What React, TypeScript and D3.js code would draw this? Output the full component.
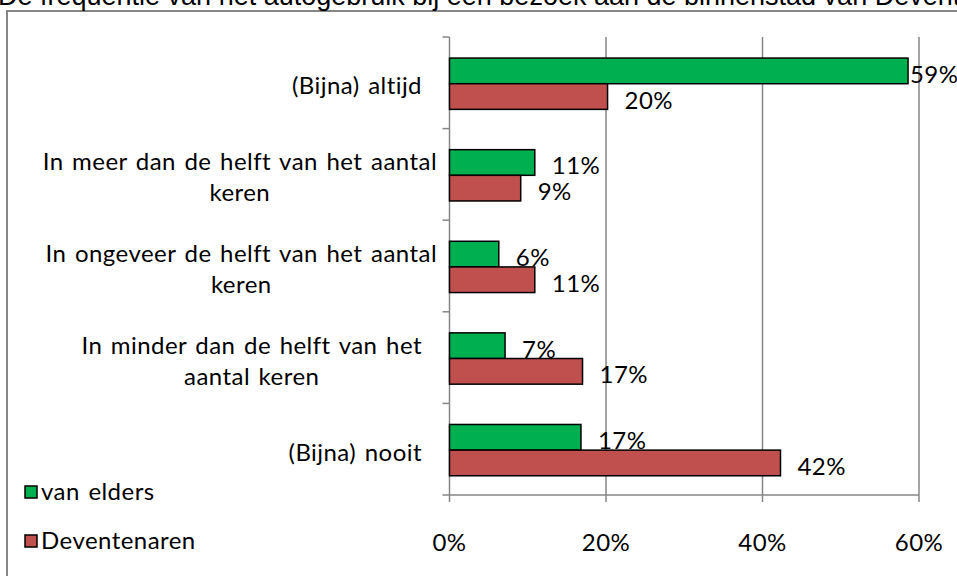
import React, { useEffect, useRef } from "react";
import * as d3 from "d3";

const titleText = "De frequentie van het autogebruik bij een bezoek aan de binnenstad van Deventer";
const categories = ["altijd", "meer", "ongeveer", "minder", "nooit"];
const categoryLines = [
  ["(Bijna) altijd"],
  ["In meer dan de helft van het aantal", "keren"],
  ["In ongeveer de helft van het aantal", "keren"],
  ["In minder dan de helft van het", "aantal keren"],
  ["(Bijna) nooit"],
];
const seriesNames = ["van elders", "Deventenaren"];
const seriesColors = ["#00B050", "#C0504D"];
const vanElders = [58.6, 10.9, 6.3, 7.1, 16.8];
const deventenaren = [20.2, 9.1, 10.9, 17.0, 42.3];
const xTicks = [0, 20, 40, 60];

export default function App() {
  const ref = useRef<SVGSVGElement>(null);
  useEffect(() => {
    const svg = d3.select(ref.current);
    svg.selectAll("*").remove();
    const W = 957, H = 576;
    const font = "Lato, 'Open Sans', sans-serif";
    const fs = 24;
    const ls = 0.45;
    const ws = 2;
    const grid = "#868686";

    const txt = (sel: any) =>
      sel.attr("font-family", font).attr("font-size", fs).attr("fill", "#000")
        .attr("letter-spacing", ls).attr("word-spacing", ws);

    svg.append("rect").attr("x", 0).attr("y", 0).attr("width", W).attr("height", H).attr("fill", "#fff");
    svg.append("rect").attr("x", 7).attr("y", 11).attr("width", W + 40).attr("height", H + 40)
      .attr("fill", "#fff").attr("stroke", grid).attr("stroke-width", 2);

    svg.append("text").attr("x", -2).attr("y", 5)
      .attr("font-family", "'Liberation Sans', Arial, sans-serif").attr("font-size", 27)
      .attr("fill", "#000").text(titleText);

    const x = d3.scaleLinear().domain([0, 60]).range([449.5, 919]);
    const y = d3.scaleBand<string>().domain(categories).range([37, 495]);
    const bw = y.bandwidth();
    const ys = d3.scaleBand<string>().domain(seriesNames).range([bw * 0.23, bw * 0.79]);

    // gridlines
    xTicks.filter((t) => t > 0).forEach((t) => {
      svg.append("line").attr("x1", x(t)).attr("x2", x(t)).attr("y1", 37).attr("y2", 495)
        .attr("stroke", grid).attr("stroke-width", 1.5);
    });

    // bottom axis
    const gx = svg.append("g").attr("transform", `translate(0,495)`);
    gx.append("line").attr("x1", x(0)).attr("x2", x(60)).attr("y1", 0).attr("y2", 0)
      .attr("stroke", grid).attr("stroke-width", 1.5);
    xTicks.forEach((t) => {
      gx.append("line").attr("x1", x(t)).attr("x2", x(t)).attr("y1", 0).attr("y2", 7)
        .attr("stroke", grid).attr("stroke-width", 1.5);
      txt(gx.append("text").attr("x", x(t)).attr("y", 56).attr("text-anchor", "middle")).text(`${t}%`);
    });

    // left axis
    svg.append("line").attr("x1", x(0)).attr("x2", x(0)).attr("y1", 37).attr("y2", 495)
      .attr("stroke", grid).attr("stroke-width", 1.5);
    const bounds = categories.map((c) => y(c)!).concat([495]);
    bounds.forEach((b) => {
      svg.append("line").attr("x1", x(0) - 7).attr("x2", x(0)).attr("y1", b).attr("y2", b)
        .attr("stroke", grid).attr("stroke-width", 1.5);
    });

    // bars
    const seriesData = [vanElders, deventenaren];
    const fmt = (v: number) => `${Math.round(v)}%`;
    seriesData.forEach((vals, si) => {
      vals.forEach((v, ci) => {
        const y0 = y(categories[ci])! + ys(seriesNames[si])!;
        svg.append("rect").attr("x", x(0)).attr("y", y0).attr("width", x(v) - x(0))
          .attr("height", ys.bandwidth()).attr("fill", seriesColors[si])
          .attr("stroke", "#000").attr("stroke-width", 1.5);
        const lx = Math.min(x(v) + 17, x(60) - 9);
        txt(svg.append("text").attr("x", lx).attr("y", y0 + ys.bandwidth() / 2 + 12)).text(fmt(v));
      });
    });

    // category labels
    categoryLines.forEach((lines, ci) => {
      const cy = y(categories[ci])! + bw / 2 + 3.5;
      const lh = 31;
      const g = svg.append("g");
      const texts = lines.map((ln, li) =>
        txt(g.append("text").attr("y", cy + (li - (lines.length - 1) / 2) * lh + 8)
          .attr("text-anchor", "middle")).text(ln)
      );
      const widths = texts.map((t) => (t.node() as SVGTextElement).getComputedTextLength());
      const maxW = d3.max(widths) || 0;
      const rightEdge = maxW > 370 ? 437 : 422;
      const cx = rightEdge - maxW / 2;
      texts.forEach((t) => t.attr("x", cx));
    });

    // legend
    seriesNames.forEach((name, si) => {
      const ly = 492 + si * 49;
      svg.append("rect").attr("x", 25).attr("y", ly - 6).attr("width", 12).attr("height", 12)
        .attr("fill", seriesColors[si]).attr("stroke", "#000").attr("stroke-width", 1.5);
      txt(svg.append("text").attr("x", 41).attr("y", ly + 8)).text(name);
    });
  }, []);

  return (
    <svg ref={ref} width={957} height={576}
      style={{ position: "absolute", left: 0, top: 0, display: "block" }} />
  );
}
